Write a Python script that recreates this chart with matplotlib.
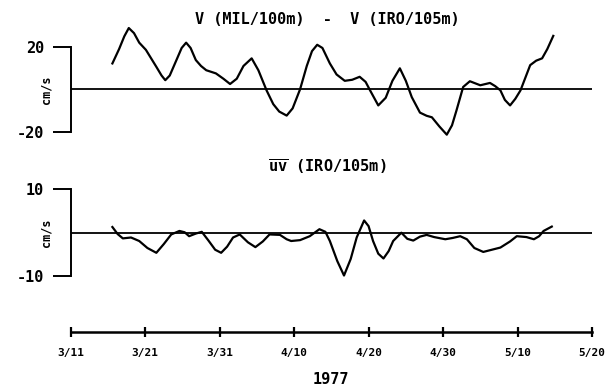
import matplotlib
matplotlib.use("Agg")
import matplotlib.pyplot as plt

# ── data (day 0 = 3/11/1977) ────────────────────────────────────────────────
dv_day = [5.6, 6.5, 7.2, 7.8, 8.5, 9.2, 10.1, 11.5, 12.2, 12.7, 13.3, 14.2, 14.9, 15.5,
          16.1, 16.8, 17.5, 18.2, 19.5, 20.5, 21.4, 22.3, 23.2, 24.3, 25.2, 26.3, 27.2,
          28.0, 29.0, 29.8, 30.8, 31.7, 32.4, 33.1, 33.8, 34.8, 35.7, 36.8, 37.8, 38.8,
          39.6, 40.2, 41.3, 42.3, 43.2, 44.2, 45.0, 45.8, 46.9, 47.8, 48.5, 49.5, 50.5,
          51.2, 51.8, 52.7, 53.6, 55.0, 56.3, 57.0, 57.7, 58.3, 59.0, 59.7, 60.4, 61.7,
          62.5, 63.3, 64.0, 64.8]
dv_val = [12.2, 19.0, 25.0, 28.9, 26.5, 22.0, 18.6, 10.6, 6.5, 4.3, 6.5, 13.8, 19.5, 22.0,
          19.5, 13.8, 11.0, 9.0, 7.5, 5.0, 2.5, 5.0, 11.0, 14.6, 9.0, -0.5, -7.0,
          -10.5, -12.4, -9.0, 0.0, 11.0, 18.0, 21.0, 19.5, 12.2, 7.0, 4.0, 4.5, 5.9,
          3.5, -0.5, -7.6, -4.0, 4.0, 9.9, 4.0, -3.7, -11.0, -12.5, -13.2, -17.5, -21.4,
          -17.0, -10.0, 1.1, 3.8, 1.9, 3.0, 1.5, -0.5, -5.0, -7.6, -4.5, -0.5, 11.4,
          13.5, 14.6, 19.0, 25.2]

uv_day = [5.6, 6.3, 7.0, 8.1, 9.2, 10.3, 11.5, 12.5, 13.5, 14.6, 15.3, 15.9, 16.8, 17.6,
          18.5, 19.4, 20.2, 21.0, 21.8, 22.7, 23.8, 24.8, 25.8, 26.7, 28.1, 29.0, 29.6,
          30.8, 32.1, 33.4, 34.2, 34.8, 35.8, 36.7, 37.6, 38.4, 39.4, 40.0, 40.6, 41.3,
          42.0, 42.7, 43.3, 44.4, 45.2, 46.0, 46.9, 47.8, 48.8, 50.3, 51.3, 52.3, 53.2,
          54.2, 55.4, 57.7, 59.0, 59.9, 61.2, 62.2, 62.9, 63.5, 64.6]
uv_val = [1.3, -0.3, -1.3, -1.1, -1.9, -3.5, -4.6, -2.6, -0.4, 0.4, 0.1, -0.8, -0.2, 0.2,
          -1.8, -3.9, -4.6, -3.2, -1.1, -0.4, -2.2, -3.3, -2.0, -0.4, -0.5, -1.5, -1.9,
          -1.7, -0.8, 0.8, 0.2, -1.9, -6.5, -9.8, -6.0, -1.1, 2.8, 1.5, -1.9, -4.8,
          -5.9, -4.2, -1.9, 0.0, -1.4, -1.8, -0.9, -0.5, -1.0, -1.5, -1.2, -0.8, -1.5,
          -3.5, -4.4, -3.4, -2.0, -0.8, -1.0, -1.5, -0.8, 0.4, 1.4]

tick_days = [0, 10, 20, 30, 40, 50, 60, 70]
tick_labels = ["3/11", "3/21", "3/31", "4/10", "4/20", "4/30", "5/10", "5/20"]

# ── layout helpers (pixel based, 608x386 figure) ────────────────────────────
W, H = 608, 386
plt.rcParams["font.family"] = ["DejaVu Sans Mono"]
plt.rcParams["font.weight"] = "bold"
plt.rcParams["mathtext.fontset"] = "custom"
plt.rcParams["mathtext.rm"] = "DejaVu Sans Mono:bold"
fig = plt.figure(figsize=(W / 100, H / 100), dpi=100)

X0, X1 = 70.7, 592.0
def axes_px(top, bottom):
    return fig.add_axes([X0 / W, 1 - bottom / H, (X1 - X0) / W, (bottom - top) / H])

def panel(ax, days, vals, zero_px, top, bottom, ppu, tick, title, title_y):
    ax.set_xlim(0, 70)
    ax.set_ylim((zero_px - bottom) / ppu, (zero_px - top) / ppu)
    ax.plot(days, vals, color="black", lw=1.6, clip_on=False, solid_joinstyle="round")
    ax.axhline(0, color="black", lw=1.3)
    for s in ["top", "right", "bottom"]:
        ax.spines[s].set_visible(False)
    ax.spines["left"].set_bounds(-tick, tick)
    ax.spines["left"].set_linewidth(1.4)
    ax.set_yticks([-tick, tick])
    ax.set_yticklabels([f"-{tick}", f"{tick}"], fontsize=11, fontweight="bold")
    ax.tick_params(axis="y", length=13, width=1.4, pad=6)
    ax.set_xticks([])
    ax.set_ylabel("cm/s", fontsize=8.5, fontweight="bold")
    ax.yaxis.set_label_coords(-(X0 - 53) / (X1 - X0), (bottom - zero_px) / (bottom - top))
    ax.patch.set_visible(False)
    fig.text(327 / W, 1 - title_y / H, title, ha="center", va="center",
             fontsize=11, fontweight="bold")

ax1 = axes_px(20, 140)
panel(ax1, dv_day, dv_val, 89.3, 20, 140, 2.12, 20, "V (MIL/100m)  -  V (IRO/105m)", 20)

ax2 = axes_px(180, 290)
panel(ax2, uv_day, uv_val, 232.7, 180, 290, 4.37, 10, r"$\overline{\mathrm{uv}}$ (IRO/105m)", 167)

# ── time axis ───────────────────────────────────────────────────────────────
ax3 = fig.add_axes([X0 / W, 1 - 332 / H, (X1 - X0) / W, 0.001])
ax3.set_xlim(0, 70)
ax3.set_yticks([])
for s in ["top", "right", "left"]:
    ax3.spines[s].set_visible(False)
ax3.spines["bottom"].set_linewidth(1.8)
ax3.set_xticks(tick_days)
ax3.set_xticklabels(tick_labels, fontsize=8, fontweight="bold")
ax3.tick_params(axis="x", direction="inout", length=7, width=1.6, pad=8)
ax3.set_xlabel("1977", fontsize=11, fontweight="bold", labelpad=10)
ax3.patch.set_visible(False)

fig.savefig("out.png", dpi=100)
